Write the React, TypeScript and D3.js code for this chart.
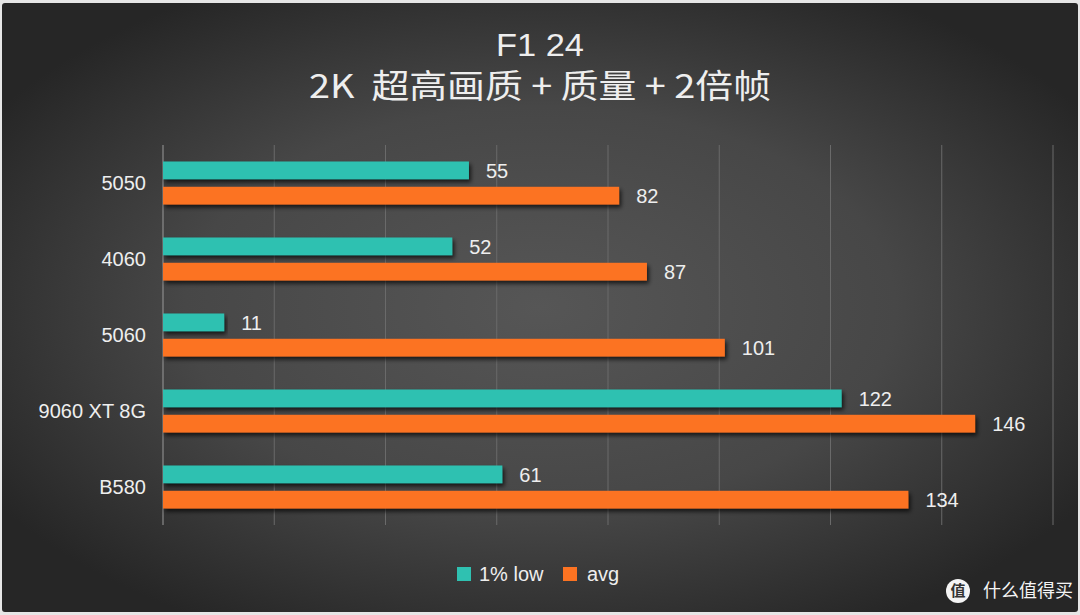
import { useMemo } from 'react'
import * as d3 from 'd3'

const categories = ['5050', '4060', '5060', '9060 XT 8G', 'B580']
const lowValues = [55, 52, 11, 122, 61]
const avgValues = [82, 87, 101, 146, 134]
const seriesNames = ['1% low', 'avg']
const xTicks = [0, 20, 40, 60, 80, 100, 120, 140, 160]

const W = 1080
const H = 615
const TEAL = '#2fc1b1'
const ORANGE = '#fc7322'
const TXT = '#eeeeee'
const FONT = '"Liberation Sans", Arial, "Noto Sans CJK SC", sans-serif'
const CJK = '"Noto Sans CJK SC", "Liberation Sans", sans-serif'

const App = () => {
  const x = useMemo(() => d3.scaleLinear().domain([0, 160]).range([163, 1053]), [])
  const y = useMemo(() => d3.scaleBand().domain(categories).range([145, 525]), [])
  const sub = useMemo(() => d3.scaleBand().domain(seriesNames).range([0, 43]).paddingInner(0.3), [])

  const barOffset = (y.bandwidth() - 43) / 2

  return (
    <svg width={W} height={H} style={{ position: 'absolute', left: 0, top: 0 }} fontFamily={FONT}>
      <defs>
        <radialGradient id="bg" cx="50%" cy="50%" r="60%">
          <stop offset="0%" stopColor="#565656" />
          <stop offset="55%" stopColor="#474747" />
          <stop offset="100%" stopColor="#262626" />
        </radialGradient>
        <filter id="shadow" x="-5%" y="-50%" width="110%" height="200%">
          <feDropShadow dx="2" dy="3" stdDeviation="2" floodColor="#000" floodOpacity="0.7" />
        </filter>
      </defs>
      <rect x={0} y={0} width={W} height={H} fill="#e6e6e6" />
      <rect x={2} y={3} width={W - 4} height={H - 6} rx={3} fill="url(#bg)" />

      <text x={540} y={56} textAnchor="middle" fill={TXT} fontSize={31} textLength={88} lengthAdjust="spacingAndGlyphs">F1 24</text>
      <text x={540} y={98} textAnchor="middle" fill={TXT} fontSize={33} fontFamily={CJK} style={{ whiteSpace: 'pre' }} textLength={462} lengthAdjust="spacingAndGlyphs">{'2K  超高画质 + 质量 + 2倍帧'}</text>

      {xTicks.map((t, i) => (
        <line key={t} x1={x(t)} x2={x(t)} y1={145} y2={525} stroke={i === 0 ? '#9a9a9a' : '#6a6a6a'} strokeWidth={1} />
      ))}

      {categories.map((c, i) => {
        const y0 = (y(c) ?? 0) + barOffset
        const rows = [
          { name: seriesNames[0], v: lowValues[i], color: TEAL },
          { name: seriesNames[1], v: avgValues[i], color: ORANGE },
        ]
        return (
          <g key={c}>
            <text x={146} y={(y(c) ?? 0) + y.bandwidth() / 2} dy="0.35em" textAnchor="end" fill={TXT} fontSize={20}>{c}</text>
            {rows.map(r => (
              <g key={r.name}>
                <rect x={x(0)} y={y0 + (sub(r.name) ?? 0)} width={x(r.v) - x(0)} height={sub.bandwidth()} fill={r.color} filter="url(#shadow)" />
                <text x={x(r.v) + 17} y={y0 + (sub(r.name) ?? 0) + sub.bandwidth() / 2} dy="0.36em" fill={TXT} fontSize={20}>{r.v}</text>
              </g>
            ))}
          </g>
        )
      })}

      <g transform="translate(457,567)">
        <rect x={0} y={0} width={14} height={14} fill={TEAL} />
        <text x={22} y={7} dy="0.36em" fill={TXT} fontSize={20}>{seriesNames[0]}</text>
        <rect x={106} y={0} width={14} height={14} fill={ORANGE} />
        <text x={130} y={7} dy="0.36em" fill={TXT} fontSize={20}>{seriesNames[1]}</text>
      </g>

      <g transform="translate(958,591)">
        <circle cx={0} cy={0} r={12} fill="#f4f4f4" />
        <text x={0} y={0} dy="0.36em" textAnchor="middle" fill="#333" fontSize={15} fontWeight="bold" fontFamily={CJK}>值</text>
        <text x={25} y={0} dy="0.36em" fill="#f4f4f4" fontSize={18} fontFamily={CJK}>什么值得买</text>
      </g>
    </svg>
  )
}

export default App
